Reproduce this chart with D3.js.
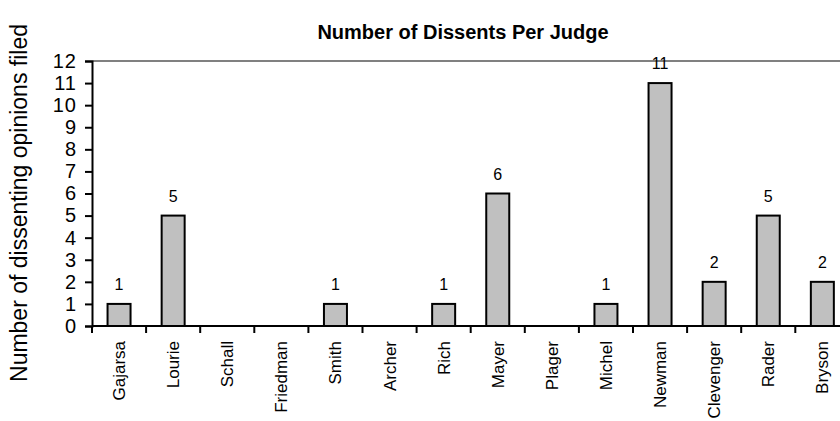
<!DOCTYPE html>
<html>
<head>
<meta charset="utf-8">
<script src="https://cdn.jsdelivr.net/npm/d3@7"></script>
<style>
  html, body { margin: 0; padding: 0; background: #fff; }
  svg { display: block; font-family: "Liberation Sans", Arial, sans-serif; }
</style>
</head>
<body>
<svg id="chart" width="840" height="421"></svg>
<script>
// Dissenting opinions filed by each judge
const judges = ["Gajarsa", "Lourie", "Schall", "Friedman", "Smith", "Archer", "Rich",
                "Mayer", "Plager", "Michel", "Newman", "Clevenger", "Rader", "Bryson"];
const dissents = [1, 5, 0, 0, 1, 0, 1, 6, 0, 1, 11, 2, 5, 2];
const yTicks = [0, 1, 2, 3, 4, 5, 6, 7, 8, 9, 10, 11, 12];

(function () {
  const svg = d3.select("#chart");
  const W = 840, H = 421;
  const mLeft = 92, mTop = 61, mBottom = 326;
  const bandW = 54.1;
  const mRight = mLeft + bandW * judges.length;

  const x = d3.scaleBand().domain(judges).range([mLeft, mRight]).padding(0);
  const y = d3.scaleLinear().domain([0, 12]).range([mBottom, mTop]);

  svg.append("defs").append("clipPath").attr("id", "clip")
    .append("rect").attr("x", 0).attr("y", 0).attr("width", W).attr("height", H);

  const g = svg.append("g").attr("clip-path", "url(#clip)");
  const rows = judges.map((j, i) => ({ j, v: dissents[i] })).filter(d => d.v > 0);

  // Plot-area top border at the maximum value
  g.append("line")
    .attr("x1", mLeft).attr("x2", W)
    .attr("y1", y(12)).attr("y2", y(12))
    .attr("stroke", "#808080").attr("stroke-width", 2);

  // Bars
  const barW = 23;
  g.selectAll("rect.bar")
    .data(rows)
    .join("rect")
    .attr("class", "bar")
    .attr("x", d => x(d.j) + (x.bandwidth() - barW) / 2)
    .attr("y", d => y(d.v))
    .attr("width", barW)
    .attr("height", d => y(0) - y(d.v))
    .attr("fill", "#c0c0c0")
    .attr("stroke", "#000")
    .attr("stroke-width", 2);

  // Value labels
  g.selectAll("text.val")
    .data(rows)
    .join("text")
    .attr("class", "val")
    .attr("x", d => x(d.j) + x.bandwidth() / 2)
    .attr("y", d => y(d.v) - 14)
    .attr("text-anchor", "middle")
    .attr("font-size", 16)
    .attr("fill", "#000")
    .text(d => d.v);

  // Y axis
  const yAxis = d3.axisLeft(y).tickValues(yTicks).tickSize(7).tickPadding(8).tickFormat(d3.format("d"));
  const ya = g.append("g").attr("transform", `translate(${mLeft},0)`).call(yAxis);
  ya.select(".domain").attr("stroke", "#000").attr("stroke-width", 2);
  ya.selectAll(".tick line").attr("stroke", "#000").attr("stroke-width", 2);
  ya.selectAll(".tick text").attr("font-size", 20).attr("letter-spacing", 1)
    .attr("font-family", "Liberation Sans, Arial, sans-serif").attr("fill", "#000");

  // X axis: ticks fall on band boundaries
  const boundaries = d3.range(judges.length + 1).map(i => mLeft + i * x.bandwidth());
  g.append("line")
    .attr("x1", mLeft).attr("x2", W)
    .attr("y1", mBottom).attr("y2", mBottom)
    .attr("stroke", "#000").attr("stroke-width", 2);
  g.selectAll("line.xt")
    .data(boundaries)
    .join("line")
    .attr("class", "xt")
    .attr("x1", d => d).attr("x2", d => d)
    .attr("y1", mBottom).attr("y2", mBottom + 7)
    .attr("stroke", "#000").attr("stroke-width", 2);

  g.selectAll("text.xl")
    .data(judges)
    .join("text")
    .attr("class", "xl")
    .attr("transform", d => `translate(${x(d) + x.bandwidth() / 2 + 6},${mBottom + 15}) rotate(-90)`)
    .attr("text-anchor", "end")
    .attr("font-size", 17)
    .attr("fill", "#000")
    .text(d => d);

  // Titles
  svg.append("text")
    .attr("x", 463).attr("y", 39)
    .attr("text-anchor", "middle")
    .attr("font-size", 20)
    .attr("font-weight", "bold")
    .attr("fill", "#000")
    .text("Number of Dissents Per Judge");

  svg.append("text")
    .attr("transform", `translate(27,${(20 + 386) / 2}) rotate(-90)`)
    .attr("text-anchor", "middle")
    .attr("font-size", 23)
    .attr("fill", "#000")
    .text("Number of dissenting opinions filed");
})();
</script>
</body>
</html>
